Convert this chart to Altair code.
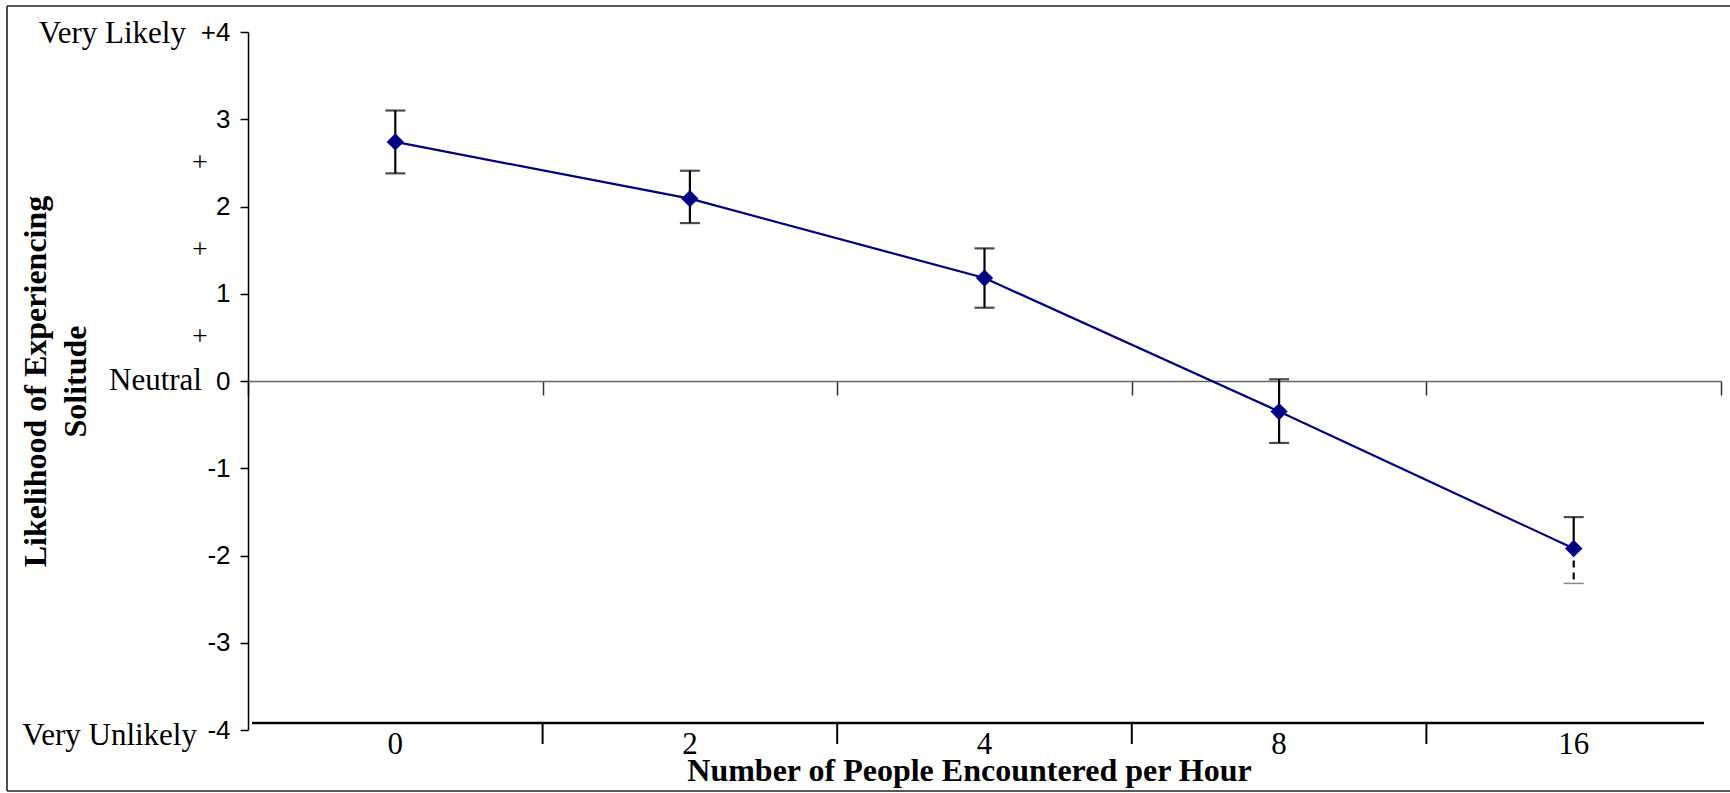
import altair as alt
import pandas as pd

# ---- data ----
counts = ["0", "2", "4", "8", "16"]
means = [2.74, 2.09, 1.18, -0.35, -1.92]
upper = [3.10, 2.41, 1.52, 0.02, -1.56]
lower = [2.38, 1.81, 0.84, -0.71, -2.32]
y_ticks = [-4, -3, -2, -1, 0, 1, 2, 3, 4]
anchor_words = ["Very Likely", "Neutral", "Very Unlikely"]
anchor_values = [4, 0, -4]
plus_values = [2.5, 1.5, 0.5]
x_title = "Number of People Encountered per Hour"
y_title = ["Likelihood of Experiencing", "Solitude"]

df = pd.DataFrame({"count": counts, "mean": means, "upper": upper, "lower": lower})
words = pd.DataFrame({"word": anchor_words, "value": anchor_values})
plus = pd.DataFrame({"sym": ["+"] * len(plus_values), "value": plus_values})

W, H = 1473, 698
SERIF = "Liberation Serif"
SANS = "Liberation Sans"
NAVY = "#000080"
LAST = counts[-1]
BOTTOM_OFFSET = 7

xscale = alt.Scale(type="band", domain=counts, paddingInner=0, paddingOuter=0)
yscale = alt.Scale(domain=[-4, 4], nice=False, zero=False)

bottom_axis = alt.Axis(
    orient="bottom", offset=-BOTTOM_OFFSET, ticks=False, domain=False,
    labelFont=SERIF, labelFontSize=31, labelColor="black", labelAngle=0,
    labelPadding=6, title=x_title, titleFont=SERIF, titleFontSize=32,
    titleFontWeight="bold", titleColor="black", titleX=721, titleY=57,
    titleBaseline="alphabetic", titleAlign="center", grid=False,
)
zero_axis = alt.Axis(
    orient="bottom", offset=-349, tickBand="extent", tickSize=14, tickColor="#333333",
    tickWidth=1.5, domainColor="#666666", domainWidth=1.5, labels=False,
    title=None, grid=False,
)
y_axis = alt.Axis(
    values=y_ticks,
    labelExpr="datum.value == 4 ? '+4' : '' + datum.value",
    labelFont=SANS, labelFontSize=26, labelColor="black", labelPadding=10,
    tickSize=8, tickColor="black", tickWidth=1.5, domainColor="black",
    domainWidth=1.5, grid=False, title=y_title, titleFont=SERIF,
    titleFontSize=32, titleFontWeight="bold", titleColor="black",
    titleX=-196, titleY=H / 2, titleBaseline="bottom", titleAlign="center",
    titleLineHeight=40,
)

base = alt.Chart(df)


def X(ax, **kw):
    return alt.X("count:N", scale=xscale, axis=ax, sort=counts, **kw)


def Y(field):
    return alt.Y(field, scale=yscale, axis=y_axis)


one_row = alt.Data(values=[{"a": 1}])
frame_style = dict(color="#222222", strokeWidth=1.6)
frame_top = alt.Chart(one_row).mark_rule(**frame_style).encode(
    x=alt.value(-241), x2=alt.value(W + 9), y=alt.value(-26)
)
frame_bottom = alt.Chart(one_row).mark_rule(**frame_style).encode(
    x=alt.value(-241), x2=alt.value(W + 9), y=alt.value(H + 61)
)
frame_left = alt.Chart(one_row).mark_rule(**frame_style).encode(
    x=alt.value(-241), y=alt.value(-26), y2=alt.value(H + 61)
)

# lower category axis: its line and the tick marks between categories
bottom_line = alt.Chart(one_row).mark_rule(color="black", strokeWidth=2.5).encode(
    x=alt.value(4), x2=alt.value(W - 17), y=alt.value(H - BOTTOM_OFFSET)
)
bottom_ticks = base.transform_filter(f"datum.count != '{LAST}'").mark_rule(
    color="black", strokeWidth=2
).encode(
    x=X(None, bandPosition=1),
    y=alt.value(H - BOTTOM_OFFSET), y2=alt.value(H - BOTTOM_OFFSET + 21),
)

whisk_up = base.mark_rule(color="black", strokeWidth=2.2).encode(
    x=X(None), y=Y("mean:Q"), y2="upper:Q"
)
whisk_lo = base.transform_filter(f"datum.count != '{LAST}'").mark_rule(
    color="black", strokeWidth=2.2
).encode(x=X(None), y=Y("mean:Q"), y2="lower:Q")
whisk_lo_last = base.transform_filter(f"datum.count == '{LAST}'").mark_rule(
    color="black", strokeWidth=2.2, strokeDash=[7, 5]
).encode(x=X(None), y=Y("mean:Q"), y2="lower:Q")

cap_up = base.mark_tick(color="black", thickness=2.2, size=20).encode(
    x=X(None), y=Y("upper:Q")
)
cap_lo = base.transform_filter(f"datum.count != '{LAST}'").mark_tick(
    color="black", thickness=2.2, size=20
).encode(x=X(None), y=Y("lower:Q"))
cap_lo_last = base.transform_filter(f"datum.count == '{LAST}'").mark_tick(
    color="black", thickness=1.5, size=20, opacity=0.45
).encode(x=X(None), y=Y("lower:Q"))

line = base.mark_line(color=NAVY, strokeWidth=2.2).encode(
    x=X(bottom_axis), y=Y("mean:Q")
)
points = base.mark_point(shape="diamond", filled=True, size=300, color=NAVY, opacity=1).encode(
    x=X(zero_axis), y=Y("mean:Q")
)


def word_layer(w, xpx, dy):
    return alt.Chart(words).transform_filter(f"datum.word == '{w}'").mark_text(
        font=SERIF, fontSize=31, color="black", align="right", baseline="alphabetic", dy=dy
    ).encode(x=alt.value(xpx), y=Y("value:Q"), text="word:N")


w1 = word_layer(anchor_words[0], -62, 11)
w2 = word_layer(anchor_words[1], -46, 9)
w3 = word_layer(anchor_words[2], -51, 15)

plus_layer = alt.Chart(plus).mark_text(
    font=SERIF, fontSize=28, color="black", align="center", baseline="middle"
).encode(x=alt.value(-48), y=Y("value:Q"), text="sym:N")

chart = alt.layer(
    frame_top, frame_bottom, frame_left, bottom_line, bottom_ticks,
    whisk_up, whisk_lo, whisk_lo_last, cap_up, cap_lo, cap_lo_last,
    line, points, w1, w2, w3, plus_layer
).resolve_axis(x="independent").properties(
    width=W, height=H,
    autosize=alt.AutoSizeParams(type="none"),
    padding={"left": 248, "top": 32, "right": 9, "bottom": 63},
    background="white",
).configure(font=SERIF).configure_view(strokeWidth=0, stroke="transparent")

chart.save("out.html", embed_options={"renderer": "svg", "actions": False})
